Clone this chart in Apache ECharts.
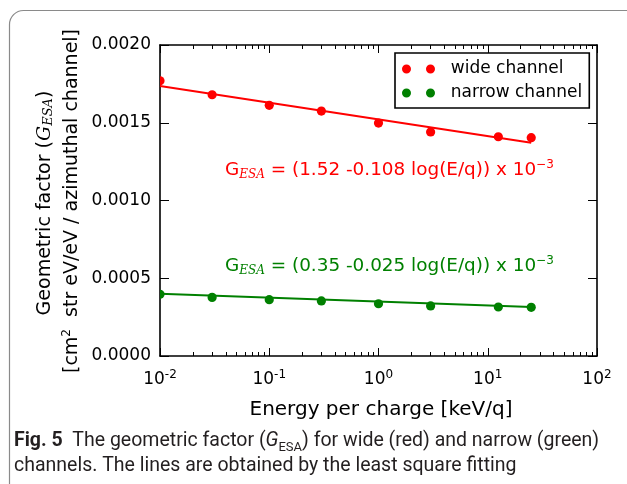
<!DOCTYPE html>
<html>
<head>
<meta charset="utf-8">
<script src="https://cdn.jsdelivr.net/npm/echarts@6/dist/echarts.min.js"></script>
<style>html,body{margin:0;padding:0;background:#fff}#c{width:627px;height:484px}</style>
</head>
<body>
<div id="c"></div>
<script>
// ---- data ----
const energy = [0.01, 0.03, 0.1, 0.3, 1, 3, 12.5, 25];
const wide = [1.770e-3, 1.680e-3, 1.612e-3, 1.575e-3, 1.498e-3, 1.441e-3, 1.410e-3, 1.404e-3];
const narrow = [0.397e-3, 0.377e-3, 0.362e-3, 0.354e-3, 0.336e-3, 0.322e-3, 0.315e-3, 0.313e-3];
const fitEnergy = [0.01, 25];
const wideFit = [1.736e-3, 1.371e-3];
const narrowFit = [0.400e-3, 0.315e-3];
const seriesNames = ['wide channel', 'narrow channel'];
const xMajor = [0.01, 0.1, 1, 10, 100];
const xMajorExp = ['-2', '-1', '0', '1', '2'];

const RED = '#ff0000', GREEN = '#008000';
const FONT = 'DejaVu Sans';

const xMinor = [];
for (let d = 0; d < xMajor.length - 1; d++) {
  for (let m = 2; m <= 9; m++) xMinor.push(+(xMajor[d] * m).toPrecision(3));
}

const chart = echarts.init(document.getElementById('c'), null, {renderer: 'canvas'});

function pts(xs, ys) { return xs.map((x, i) => [x, ys[i]]); }

function dotSeries(name, xs, ys, color) {
  return {
    name: name, type: 'custom', xAxisIndex: 0, yAxisIndex: 0,
    clip: true, z: 5,
    itemStyle: {color: color},
    encode: {x: 0, y: 1},
    data: pts(xs, ys),
    renderItem: function (params, api) {
      const p = api.coord([api.value(0), api.value(1)]);
      return {type: 'circle', shape: {cx: p[0], cy: p[1], r: 4.6}, style: {fill: color}};
    }
  };
}
function fitSeries(xs, ys, color) {
  return {
    type: 'line', xAxisIndex: 0, yAxisIndex: 0, symbol: 'none', z: 4,
    lineStyle: {color: color, width: 2}, data: pts(xs, ys), silent: true
  };
}

const twoDots = 'path://M0,4.5a4.5,4.5 0 1,0 9,0a4.5,4.5 0 1,0 -9,0Z M24,4.5a4.5,4.5 0 1,0 9,0a4.5,4.5 0 1,0 -9,0Z';

const xBase = {
  type: 'log', logBase: 10, min: 0.01, max: 100,
  splitLine: {show: false}, minorTick: {show: false}
};

const grid = {left: 160, right: 30, top: 45, bottom: 128};

const richTick = {
  b: {fontFamily: FONT, fontSize: 17, color: '#000'},
  s: {fontFamily: FONT, fontSize: 12, color: '#000', verticalAlign: 'top', padding: [0, 0, 9, 0]}
};

const option = {
  animation: false,
  backgroundColor: '#fff',
  grid: grid,
  xAxis: [
    Object.assign({}, xBase, {
      position: 'bottom',
      axisLine: {show: true, lineStyle: {color: '#000', width: 1.6}},
      axisTick: {show: true, inside: true, length: 8, lineStyle: {color: '#000', width: 1}, customValues: xMajor},
      axisLabel: {
        show: true, margin: 13, customValues: xMajor,
        formatter: function (v) {
          const i = xMajor.findIndex(m => Math.abs(Math.log10(m) - Math.log10(v)) < 1e-6);
          return '{b|10}{s|' + (i >= 0 ? xMajorExp[i] : '') + '}';
        },
        rich: richTick
      },
      name: 'Energy per charge [keV/q]', nameLocation: 'middle', nameGap: 44,
      nameTextStyle: {fontFamily: FONT, fontSize: 20, color: '#000', padding: [0, 0, 0, 5]}
    }),
    Object.assign({}, xBase, {
      position: 'bottom',
      axisLine: {show: false},
      axisTick: {show: true, inside: true, length: 4, lineStyle: {color: '#000', width: 1}, customValues: xMinor},
      axisLabel: {show: false}
    }),
    Object.assign({}, xBase, {
      position: 'top',
      axisLine: {show: true, lineStyle: {color: '#000', width: 1.6}},
      axisTick: {show: true, inside: true, length: 8, lineStyle: {color: '#000', width: 1}, customValues: xMajor},
      axisLabel: {show: false}
    }),
    Object.assign({}, xBase, {
      position: 'top',
      axisLine: {show: false},
      axisTick: {show: true, inside: true, length: 4, lineStyle: {color: '#000', width: 1}, customValues: xMinor},
      axisLabel: {show: false}
    })
  ],
  yAxis: [
    {
      type: 'value', min: 0, max: 0.002, interval: 0.0005, position: 'left',
      splitLine: {show: false},
      axisLine: {show: true, lineStyle: {color: '#000', width: 1.6}},
      axisTick: {show: true, inside: true, length: 9, lineStyle: {color: '#000', width: 1}},
      axisLabel: {
        margin: 9, fontFamily: FONT, fontSize: 17, color: '#000',
        formatter: v => v.toFixed(4)
      }
    },
    {
      type: 'value', min: 0, max: 0.002, interval: 0.0005, position: 'right',
      splitLine: {show: false},
      axisLine: {show: true, lineStyle: {color: '#000', width: 1.6}},
      axisTick: {show: true, inside: true, length: 9, lineStyle: {color: '#000', width: 1}},
      axisLabel: {show: false}
    }
  ],
  legend: {
    orient: 'vertical', left: 395, top: 53,
    padding: [7, 7, 6, 7],
    itemWidth: 33, itemHeight: 9, itemGap: 6,
    borderColor: '#000', borderWidth: 1.6, borderRadius: 0,
    backgroundColor: '#fff',
    data: seriesNames.map(n => ({name: n, icon: twoDots})),
    formatter: n => '  ' + n,
    textStyle: {fontFamily: FONT, fontSize: 17, color: '#000', lineHeight: 18},
    selectedMode: false
  },
  series: [
    fitSeries(fitEnergy, wideFit, RED),
    fitSeries(fitEnergy, narrowFit, GREEN),
    dotSeries(seriesNames[0], energy, wide, RED),
    dotSeries(seriesNames[1], energy, narrow, GREEN)
  ],
  graphic: [
    {
      type: 'rect', silent: true, z: -10,
      shape: {x: 9.5, y: 10.5, width: 640, height: 520, r: 14},
      style: {fill: 'none', stroke: '#8a8a8a', lineWidth: 1.2}
    },
    {
      type: 'text', x: 45, y: 203, rotation: Math.PI / 2, silent: true,
      style: {
        text: 'Geometric factor ({g|G}{sub|ESA})',
        fontFamily: FONT, fontSize: 19, fill: '#000', align: 'center', verticalAlign: 'middle',
        rich: {
          g: {fontFamily: 'DejaVu Serif', fontStyle: 'italic', fontSize: 19, fill: '#000'},
          sub: {fontFamily: 'DejaVu Serif', fontStyle: 'italic', fontSize: 13, fill: '#000', verticalAlign: 'bottom', padding: [8, 0, 0, 0]}
        }
      }
    },
    {
      type: 'text', x: 72, y: 201, rotation: Math.PI / 2, silent: true,
      style: {
        text: '[cm{sup|2}  str eV/eV / azimuthal channel]',
        fontFamily: FONT, fontSize: 19, fill: '#000', align: 'center', verticalAlign: 'middle',
        rich: {
          sup: {fontFamily: FONT, fontSize: 12, fill: '#000', verticalAlign: 'top', padding: [0, 0, 10, 0]}
        }
      }
    },
    {
      type: 'text', left: 225, top: 159, silent: true,
      style: {
        text: 'G{sub|ESA} = (1.52 -0.108 log(E/q)) x 10{sup|−3}',
        fontFamily: FONT, fontSize: 18.4, fill: RED,
        rich: {
          sub: {fontFamily: 'DejaVu Serif', fontStyle: 'italic', fontSize: 12, fill: RED, verticalAlign: 'bottom', padding: [9, 0, 0, 0]},
          sup: {fontFamily: FONT, fontSize: 12, fill: RED, verticalAlign: 'top', padding: [0, 0, 10, 0]}
        }
      }
    },
    {
      type: 'text', left: 225, top: 255, silent: true,
      style: {
        text: 'G{sub|ESA} = (0.35 -0.025 log(E/q)) x 10{sup|−3}',
        fontFamily: FONT, fontSize: 18.4, fill: GREEN,
        rich: {
          sub: {fontFamily: 'DejaVu Serif', fontStyle: 'italic', fontSize: 12, fill: GREEN, verticalAlign: 'bottom', padding: [9, 0, 0, 0]},
          sup: {fontFamily: FONT, fontSize: 12, fill: GREEN, verticalAlign: 'top', padding: [0, 0, 10, 0]}
        }
      }
    },
    {
      type: 'text', left: 14, top: 429, silent: true,
      style: {
        text: '{b|Fig. 5}  The geometric factor ({i|G}{s|ESA}) for wide (red) and narrow (green)\nchannels. The lines are obtained by the least square fitting',
        fontFamily: 'Roboto', fontSize: 19.5, fill: '#231f20', lineHeight: 25,
        rich: {
          b: {fontFamily: 'Roboto', fontWeight: 'bold', fontSize: 19.5, fill: '#231f20', lineHeight: 25},
          i: {fontFamily: 'Roboto', fontStyle: 'italic', fontSize: 19.5, fill: '#231f20', lineHeight: 25},
          s: {fontFamily: 'Roboto', fontSize: 13, fill: '#231f20', verticalAlign: 'bottom', lineHeight: 25}
        }
      }
    }
  ]
};
chart.setOption(option);
</script>
</body>
</html>
